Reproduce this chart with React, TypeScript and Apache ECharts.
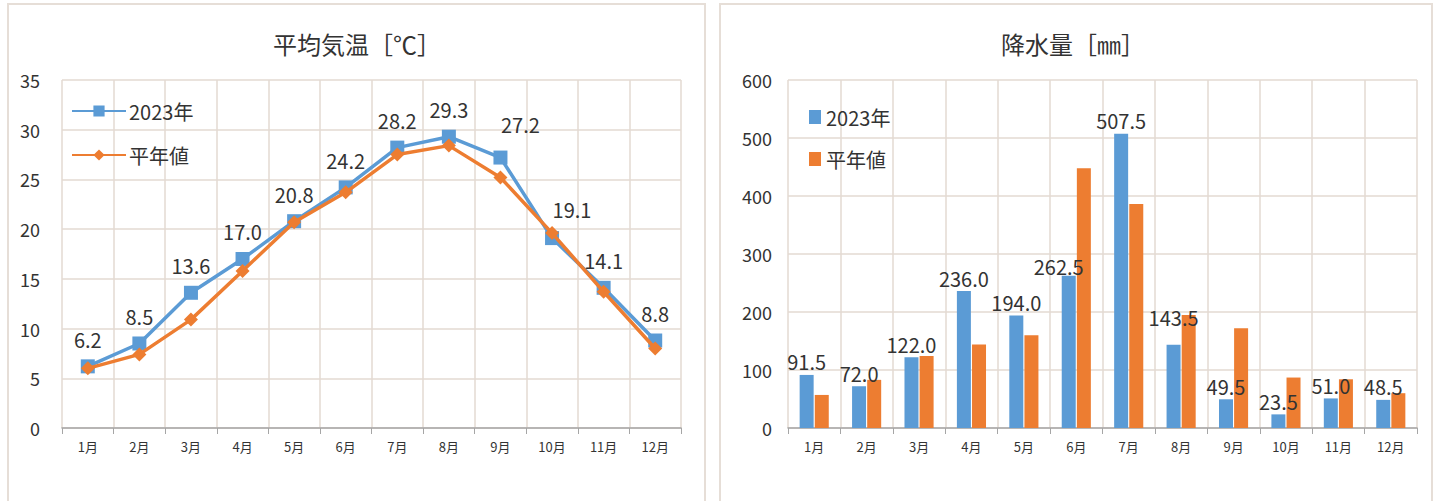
import React, { useEffect, useRef } from "react";
import * as echarts from "echarts";

const months = ["1月", "2月", "3月", "4月", "5月", "6月", "7月", "8月", "9月", "10月", "11月", "12月"];
const temp2023 = [6.2, 8.5, 13.6, 17.0, 20.8, 24.2, 28.2, 29.3, 27.2, 19.1, 14.1, 8.8];
const tempNormal = [6.0, 7.4, 10.9, 15.8, 20.7, 23.7, 27.5, 28.4, 25.2, 19.6, 13.7, 8.0];
const rain2023 = [91.5, 72.0, 122.0, 236.0, 194.0, 262.5, 507.5, 143.5, 49.5, 23.5, 51.0, 48.5];
const rainNormal = [57, 83, 124, 144, 160, 448, 386, 195, 172, 87, 84, 60];
const seriesNames = ["2023年", "平年値"];
const titleTemp = "平均気温［℃］";
const titleRain = "降水量［㎜］";

const BLUE = "#5B9BD5";
const ORANGE = "#ED7D31";
const TEXT = "#333333";
const GRID = "#E3DAD2";
const FONT = "'Noto Sans CJK JP', sans-serif";

const tempLabelOffsets: Record<number, number[]> = { 8: [20, -6], 9: [20, -2] };
const rainLabelOffsets: Record<number, number[]> = { 5: [-10, 4], 7: [0, -14] };

export default function App() {
  const ref = useRef<HTMLDivElement>(null);
  useEffect(() => {
    if (!ref.current) return;
    const chart = echarts.init(ref.current, undefined, { renderer: "svg" });
    const fmt = (p: any) => Number(p.value).toFixed(1);
    const xAxisCommon = {
      type: "category",
      data: months,
      boundaryGap: true,
      axisLine: { show: true, lineStyle: { color: "#A6A6A6", width: 1.5 } },
      axisTick: { show: true, length: 6, lineStyle: { color: "#A6A6A6" } },
      axisLabel: { color: TEXT, fontSize: 13, margin: 12, fontFamily: FONT },
      splitLine: { show: true, lineStyle: { color: GRID, width: 1.5 } },
    };
    chart.setOption({
      animation: false,
      backgroundColor: "#ffffff",
      textStyle: { fontFamily: FONT },
      graphic: [
        { type: "rect", shape: { x: 8, y: 4, width: 697, height: 520 }, style: { fill: "none", stroke: "#E6DED7", lineWidth: 2 } },
        { type: "rect", shape: { x: 720, y: 4, width: 712, height: 520 }, style: { fill: "none", stroke: "#E6DED7", lineWidth: 2 } },
      ],
      title: [
        { text: titleTemp, left: 352, top: 26, textAlign: "center", textStyle: { fontSize: 24, fontWeight: "normal", color: TEXT, fontFamily: FONT } },
        { text: titleRain, left: 1068, top: 26, textAlign: "center", textStyle: { fontSize: 24, fontWeight: "normal", color: TEXT, fontFamily: FONT } },
      ],
      legend: [
        {
          data: seriesNames.map((n) => ({ name: n })),
          orient: "vertical",
          left: 66,
          top: 96,
          itemWidth: 54,
          itemHeight: 14,
          itemGap: 24,
          textStyle: { fontSize: 20, color: TEXT, fontFamily: FONT, padding: [0, 0, 0, -2] },
        },
        {
          data: [
            { name: seriesNames[0] + " ", icon: "rect" },
            { name: seriesNames[1] + " ", icon: "rect" },
          ],
          orient: "vertical",
          left: 804,
          top: 102,
          itemWidth: 12,
          itemHeight: 14,
          itemGap: 22,
          textStyle: { fontSize: 20, color: TEXT, fontFamily: FONT },
        },
      ],
      grid: [
        { left: 62, right: 752, top: 80, bottom: 73 },
        { left: 788, right: 16, top: 80, bottom: 73 },
      ],
      xAxis: [
        { ...xAxisCommon, gridIndex: 0 },
        { ...xAxisCommon, gridIndex: 1 },
      ],
      yAxis: [
        {
          type: "value",
          gridIndex: 0,
          min: 0,
          max: 35,
          interval: 5,
          axisLine: { show: false },
          axisTick: { show: false },
          axisLabel: { color: TEXT, fontSize: 18, margin: 22, fontFamily: FONT },
          splitLine: { show: true, lineStyle: { color: GRID, width: 1.5 } },
        },
        {
          type: "value",
          gridIndex: 1,
          min: 0,
          max: 600,
          interval: 100,
          axisLine: { show: false },
          axisTick: { show: false },
          axisLabel: { color: TEXT, fontSize: 18, margin: 16, fontFamily: FONT },
          splitLine: { show: true, lineStyle: { color: GRID, width: 1.5 } },
        },
      ],
      series: [
        {
          name: seriesNames[0],
          type: "line",
          xAxisIndex: 0,
          yAxisIndex: 0,
          data: temp2023.map((v, i) =>
            tempLabelOffsets[i] ? { value: v, label: { offset: tempLabelOffsets[i] } } : v
          ),
          symbol: "rect",
          symbolSize: 14,
          lineStyle: { color: BLUE, width: 3.5 },
          itemStyle: { color: BLUE },
          label: { show: true, position: "top", distance: 10, fontSize: 20, color: TEXT, formatter: fmt, fontFamily: FONT },
          z: 3,
        },
        {
          name: seriesNames[1],
          type: "line",
          xAxisIndex: 0,
          yAxisIndex: 0,
          data: tempNormal,
          symbol: "diamond",
          symbolSize: 14,
          lineStyle: { color: ORANGE, width: 3.5 },
          itemStyle: { color: ORANGE },
          z: 4,
        },
        {
          name: seriesNames[0] + " ",
          type: "bar",
          xAxisIndex: 1,
          yAxisIndex: 1,
          data: rain2023.map((v, i) =>
            rainLabelOffsets[i] ? { value: v, label: { offset: rainLabelOffsets[i] } } : v
          ),
          barWidth: 14,
          barGap: "8%",
          itemStyle: { color: BLUE },
          label: { show: true, position: "top", distance: 3, fontSize: 20, color: TEXT, formatter: fmt, fontFamily: FONT },
          z: 3,
        },
        {
          name: seriesNames[1] + " ",
          type: "bar",
          xAxisIndex: 1,
          yAxisIndex: 1,
          data: rainNormal,
          barWidth: 14,
          itemStyle: { color: ORANGE },
          z: 2,
        },
      ],
    });
    return () => chart.dispose();
  }, []);
  return (
    <div
      ref={ref}
      style={{ position: "absolute", left: 0, top: 0, width: 1433, height: 501, background: "#fff" }}
    />
  );
}
